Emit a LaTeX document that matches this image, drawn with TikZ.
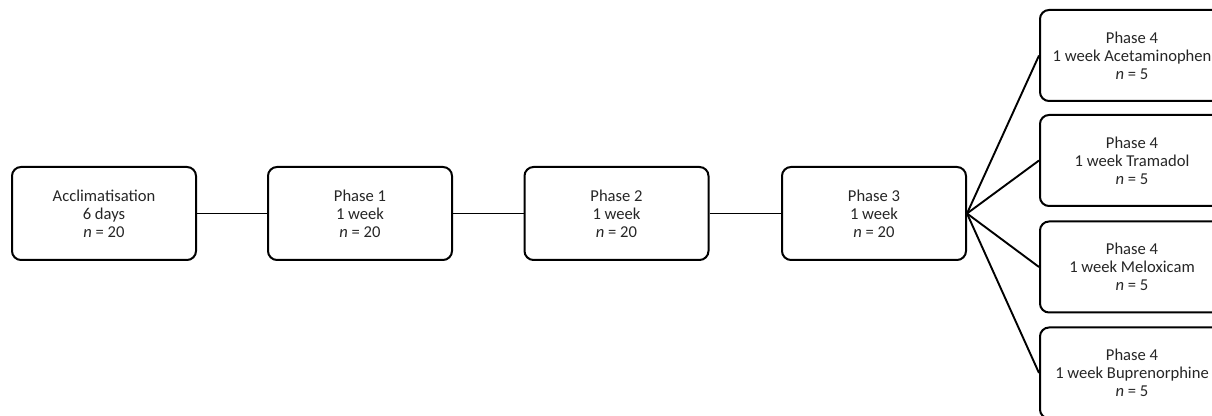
\documentclass[tikz,border=0pt]{standalone}
\usepackage{fontspec}
\setmainfont{Carlito}
\begin{document}
\begin{tikzpicture}[x=0.5pt,y=-0.5pt,
  box/.style={draw=black,line width=1pt,rounded corners=4.5pt,minimum width=92pt,minimum height=46.5pt,align=center,font=\fontsize{8.3}{9}\selectfont,text=black!85,inner sep=0pt},
  rbox/.style={box,minimum height=45.5pt},
  conn/.style={draw=black,line width=0.95pt}]
\useasboundingbox (0,0) rectangle (1212,416);
\clip (0,0) rectangle (1212,416);
\node[box] (a) at (104,213.5) {Acclimatisation\\6 days\\\textit{n} = 20};
\node[box] (p1) at (360,213.5) {Phase 1\\1 week\\\textit{n} = 20};
\node[box] (p2) at (616.5,213.5) {Phase 2\\1 week\\\textit{n} = 20};
\node[box] (p3) at (874,213.5) {Phase 3\\1 week\\\textit{n} = 20};
\node[rbox] (q1) at (1132,55.5) {Phase 4\\1 week Acetaminophen\\\textit{n} = 5};
\node[rbox] (q2) at (1132,160.5) {Phase 4\\1 week Tramadol\\\textit{n} = 5};
\node[rbox] (q3) at (1132,267) {Phase 4\\1 week Meloxicam\\\textit{n} = 5};
\node[rbox] (q4) at (1132,373) {Phase 4\\1 week Buprenorphine\\\textit{n} = 5};
\draw[conn] (a.east) -- (p1.west);
\draw[conn] (p1.east) -- (p2.west);
\draw[conn] (p2.east) -- (p3.west);
\foreach \q in {q1,q2,q3,q4} \draw[conn] (p3.east) -- (\q.west);
\end{tikzpicture}
\end{document}
